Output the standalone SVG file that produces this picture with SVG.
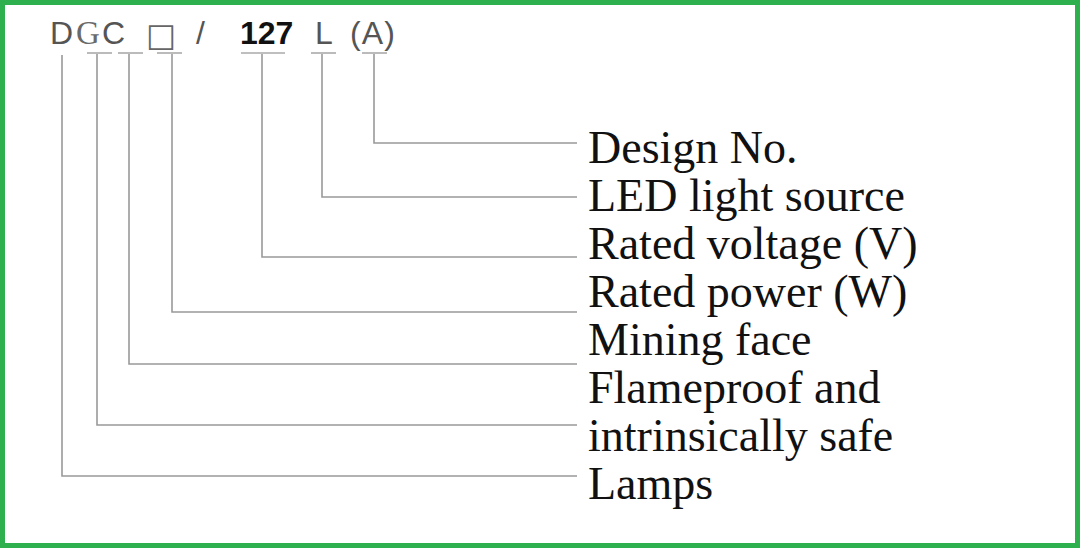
<svg xmlns="http://www.w3.org/2000/svg" width="1080" height="548" viewBox="0 0 1080 548">
<style>
.code{font-family:"Liberation Sans",Arial,sans-serif;font-size:32px;fill:#555}
.serifg{font-family:"Liberation Serif","Times New Roman",serif;font-size:33px;fill:#6a6a6a}
.box{font-family:"DejaVu Sans",sans-serif;font-size:32px;fill:#666}
.bold{font-family:"Liberation Sans",Arial,sans-serif;font-size:32px;font-weight:bold;fill:#111}
.lbl{font-family:"Liberation Serif","Times New Roman",serif;font-size:46px;fill:#111}
.ln{fill:none;stroke:#999;stroke-width:1.6}
.bar{stroke:#aaa;stroke-width:1.6}
</style>
<rect x="0" y="0" width="1080" height="548" fill="#fff"/>
<rect x="2.5" y="2.5" width="1075" height="543" fill="none" stroke="#2eb04e" stroke-width="5"/>
<g id="code">
<text class="code" x="50" y="44">D</text>
<text class="serifg" x="76" y="44">G</text>
<text class="code" x="102" y="44">C</text>
<text class="box" x="146" y="46">□</text>
<text class="code" x="196" y="44">/</text>
<text class="bold" x="240" y="44">127</text>
<text class="code" x="315" y="44">L</text>
<text class="code" x="350" y="44" textLength="45">(A)</text>
</g>
<g id="bars">
<line class="bar" x1="87" y1="53" x2="112" y2="53"/>
<line class="bar" x1="118" y1="53" x2="143" y2="53"/>
<line class="bar" x1="157" y1="53" x2="182" y2="53"/>
<line class="bar" x1="241" y1="53" x2="285" y2="53"/>
<line class="bar" x1="311" y1="53" x2="336" y2="53"/>
<line class="bar" x1="362" y1="53" x2="387" y2="53"/>
</g>
<g id="connectors">
<polyline class="ln" points="374,54 374,143 577,143"/>
<polyline class="ln" points="322,54 322,197 577,197"/>
<polyline class="ln" points="262,54 262,257 577,257"/>
<polyline class="ln" points="172,54 172,312 577,312"/>
<polyline class="ln" points="129,54 129,364 577,364"/>
<polyline class="ln" points="97,54 97,425 577,425"/>
<polyline class="ln" points="62,55 62,476 577,476"/>
</g>
<g id="n-design"><text class="lbl" x="588" y="163">Design No.</text></g>
<g id="n-led"><text class="lbl" x="588" y="211">LED light source</text></g>
<g id="n-voltage"><text class="lbl" x="588" y="259">Rated voltage (V)</text></g>
<g id="n-power"><text class="lbl" x="588" y="307">Rated power (W)</text></g>
<g id="n-mining"><text class="lbl" x="588" y="355">Mining face</text></g>
<g id="n-flame"><text class="lbl" x="588" y="403">Flameproof and</text><text class="lbl" x="588" y="451">intrinsically safe</text></g>
<g id="n-lamps"><text class="lbl" x="588" y="499">Lamps</text></g>
</svg>
